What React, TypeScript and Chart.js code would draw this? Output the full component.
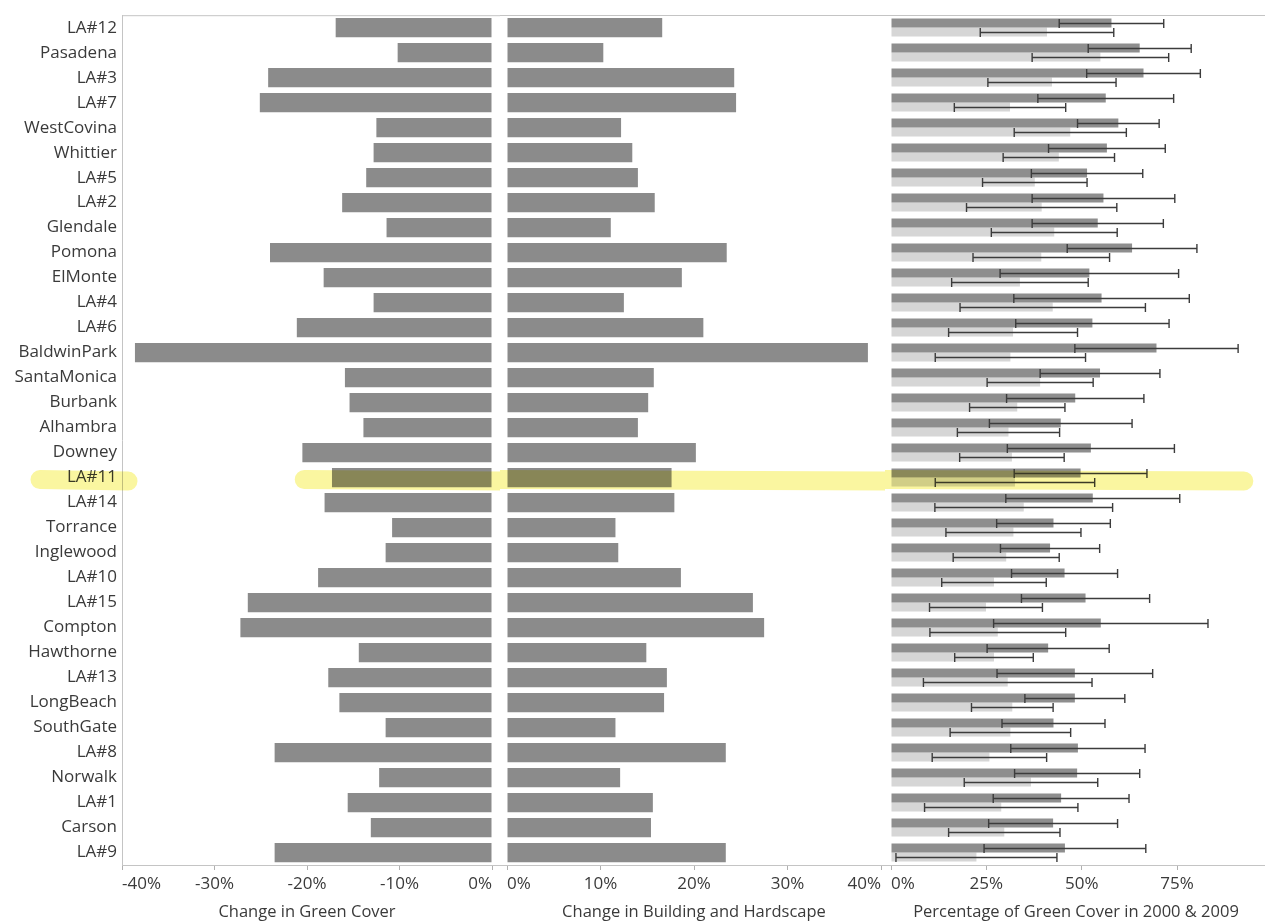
import React, { useEffect, useRef } from 'react';
import { Chart, registerables } from 'chart.js';
Chart.register(...registerables);

const cityLabels = ['LA#12','Pasadena','LA#3','LA#7','WestCovina','Whittier','LA#5','LA#2','Glendale','Pomona','ElMonte','LA#4','LA#6','BaldwinPark','SantaMonica','Burbank','Alhambra','Downey','LA#11','LA#14','Torrance','Inglewood','LA#10','LA#15','Compton','Hawthorne','LA#13','LongBeach','SouthGate','LA#8','Norwalk','LA#1','Carson','LA#9'];

const greenCoverChange = [-16.9,-10.2,-24.2,-25.1,-12.5,-12.8,-13.6,-16.2,-11.4,-24.0,-18.2,-12.8,-21.1,-38.6,-15.9,-15.4,-13.9,-20.5,-17.3,-18.1,-10.8,-11.5,-18.8,-26.4,-27.2,-14.4,-17.7,-16.5,-11.5,-23.5,-12.2,-15.6,-13.1,-23.5];

const hardscapeChange = [16.6,10.3,24.3,24.5,12.2,13.4,14.0,15.8,11.1,23.5,18.7,12.5,21.0,38.6,15.7,15.1,14.0,20.2,17.6,17.9,11.6,11.9,18.6,26.3,27.5,14.9,17.1,16.8,11.6,23.4,12.1,15.6,15.4,23.4];

const green2000 = [57.8,65.2,66.2,56.3,59.6,56.6,51.4,55.7,54.2,63.2,52.0,55.2,52.8,69.6,54.8,48.3,44.5,52.4,49.7,52.9,42.6,41.7,45.5,51.0,55.0,41.2,48.2,48.2,42.6,49.0,48.8,44.6,42.5,45.6];
const err2000 = [13.7,13.5,14.9,17.8,10.7,15.3,14.6,18.7,17.2,17.0,23.4,23.0,20.1,21.4,15.7,18.0,18.7,21.9,17.4,22.8,14.9,13.0,13.9,16.8,28.1,16.0,20.4,13.1,13.5,17.6,16.4,17.8,16.9,21.2];
const green2009 = [40.9,54.9,42.2,31.2,47.0,44.0,37.7,39.5,42.8,39.4,33.8,42.4,32.0,31.3,39.1,33.1,30.8,31.7,32.5,34.8,32.1,30.2,27.0,24.9,28.0,27.0,30.6,31.8,31.3,25.8,36.7,28.9,29.7,22.4];
const err2009 = [17.5,17.9,16.8,14.6,14.7,14.6,13.7,19.7,16.5,17.9,17.9,24.3,16.9,19.7,13.9,12.5,13.4,13.7,20.9,23.3,17.7,13.9,13.7,14.8,17.8,10.3,22.1,10.7,15.8,15.0,17.5,20.1,14.6,21.1];

const seriesYears = ['2000', '2009'];
const highlightCity = 'LA#11';

const leftTicks = { min: -40, max: 0, step: 10 };
const midTicks = { min: 0, max: 40, step: 10 };
const rightTicks = { min: 0, max: 97, step: 25 };

const FONT = '"Open Sans", "Noto Sans", sans-serif';
const TEXT = '#3a3a3a';
const BAR = '#8b8b8b';
const BAR_DARK = '#8e8e8e';
const BAR_LIGHT = '#d6d6d6';
const LINE = '#c4c4c4';

const framePlugin = (fromAxis: boolean) => ({
  id: 'frame',
  afterDraw(chart: any) {
    const { ctx, chartArea } = chart;
    const x0 = fromAxis ? chartArea.left : 0;
    ctx.save();
    ctx.strokeStyle = LINE;
    ctx.lineWidth = 1;
    ctx.beginPath();
    ctx.moveTo(x0, chartArea.top + 0.5);
    ctx.lineTo(chart.width, chartArea.top + 0.5);
    ctx.moveTo(x0, chartArea.bottom + 0.5);
    ctx.lineTo(chart.width, chartArea.bottom + 0.5);
    ctx.stroke();
    ctx.restore();
  },
});

const highlightPlugin = (getSegments: (chart: any) => number[][]) => ({
  id: 'highlight',
  afterDraw(chart: any) {
    const { ctx } = chart;
    const ys = chart.scales.y;
    const idx = cityLabels.indexOf(highlightCity);
    const yc = ys.getPixelForValue(idx) + 2;
    ctx.save();
    ctx.globalCompositeOperation = 'multiply';
    ctx.strokeStyle = 'rgb(250, 246, 160)';
    ctx.lineWidth = 19;
    ctx.lineCap = 'round';
    for (const [a, b] of getSegments(chart)) {
      ctx.beginPath();
      ctx.moveTo(a, yc);
      ctx.lineTo(b, yc + 1.5);
      ctx.stroke();
    }
    ctx.restore();
  },
});

const errorBarPlugin = {
  id: 'errorBars',
  afterDatasetsDraw(chart: any) {
    const { ctx } = chart;
    const xs = chart.scales.x;
    ctx.save();
    ctx.strokeStyle = '#3c3c3c';
    ctx.lineWidth = 1.4;
    chart.data.datasets.forEach((ds: any, di: number) => {
      const meta = chart.getDatasetMeta(di);
      meta.data.forEach((el: any, i: number) => {
        const v = ds.data[i];
        const e = ds.errors[i];
        const x0 = xs.getPixelForValue(v - e);
        const x1 = xs.getPixelForValue(v + e);
        const y = Math.round(el.y) + 0.5;
        ctx.beginPath();
        ctx.moveTo(x0, y);
        ctx.lineTo(x1, y);
        ctx.moveTo(x0, y - 4.5);
        ctx.lineTo(x0, y + 4.5);
        ctx.moveTo(x1, y - 4.5);
        ctx.lineTo(x1, y + 4.5);
        ctx.stroke();
      });
    });
    ctx.restore();
  },
};

const tickFont = { family: FONT, size: 17 };
const titleFont = { family: FONT, size: 16.5 };

function xAxis(cfg: { min: number; max: number; step: number }, title: string) {
  return {
    type: 'linear',
    min: cfg.min,
    max: cfg.max,
    ticks: {
      stepSize: cfg.step,
      align: 'inner',
      maxRotation: 0,
      autoSkip: false,
      padding: 4,
      color: TEXT,
      font: tickFont,
      callback: (v: number) => (v % cfg.step === 0 ? `${v}%` : ''),
    },
    grid: {
      drawOnChartArea: false,
      drawTicks: true,
      tickLength: 5,
      color: (ctx: any) => (ctx.tick && ctx.tick.value % cfg.step === 0 ? '#b0b0b0' : 'rgba(0,0,0,0)'),
    },
    border: { display: false },
    title: { display: true, text: title, color: TEXT, font: titleFont, padding: { top: 0, bottom: 0 } },
    afterFit: (s: any) => { s.height = 57; },
  };
}

function useChart(ref: React.RefObject<HTMLCanvasElement>, make: () => any) {
  useEffect(() => {
    if (!ref.current) return;
    const chart = new Chart(ref.current, make());
    return () => chart.destroy();
  }, []);
}

export default function App() {
  const leftRef = useRef<HTMLCanvasElement>(null);
  const midRef = useRef<HTMLCanvasElement>(null);
  const rightRef = useRef<HTMLCanvasElement>(null);

  useChart(leftRef, () => ({
    type: 'bar',
    data: {
      labels: cityLabels,
      datasets: [{ label: 'Change in Green Cover', data: greenCoverChange, backgroundColor: BAR, barPercentage: 0.77, categoryPercentage: 1 }],
    },
    options: {
      indexAxis: 'y',
      animation: false,
      responsive: false,
      devicePixelRatio: 1,
      layout: { padding: { left: 0, right: 8, top: 15, bottom: 0 } },
      plugins: { legend: { display: false }, tooltip: { enabled: false } },
      scales: {
        x: xAxis(leftTicks, 'Change in Green Cover'),
        y: {
          ticks: { color: TEXT, font: { family: FONT, size: 17 }, padding: 5, autoSkip: false },
          grid: { display: false, drawTicks: false },
          border: { display: true, color: LINE },
          afterFit: (s: any) => { s.width = 122; },
        },
      },
    },
    plugins: [
      framePlugin(true),
      highlightPlugin((c: any) => [
        [c.scales.y.left + 40, c.chartArea.left + 6],
        [c.scales.x.getPixelForValue(-20.3), c.width + 20],
      ]),
    ],
  }));

  useChart(midRef, () => ({
    type: 'bar',
    data: {
      labels: cityLabels,
      datasets: [{ label: 'Change in Building and Hardscape', data: hardscapeChange, backgroundColor: BAR, barPercentage: 0.77, categoryPercentage: 1 }],
    },
    options: {
      indexAxis: 'y',
      animation: false,
      responsive: false,
      devicePixelRatio: 1,
      layout: { padding: { left: 7, right: 4, top: 15, bottom: 0 } },
      plugins: { legend: { display: false }, tooltip: { enabled: false } },
      scales: {
        x: xAxis(midTicks, 'Change in Building and Hardscape'),
        y: { display: false },
      },
    },
    plugins: [framePlugin(false), highlightPlugin((c: any) => [[-20, c.width + 20]])],
  }));

  useChart(rightRef, () => ({
    type: 'bar',
    data: {
      labels: cityLabels,
      datasets: [
        { label: seriesYears[0], data: green2000, errors: err2000, backgroundColor: BAR_DARK, barPercentage: 1, categoryPercentage: 0.72 },
        { label: seriesYears[1], data: green2009, errors: err2009, backgroundColor: BAR_LIGHT, barPercentage: 1, categoryPercentage: 0.72 },
      ],
    },
    options: {
      indexAxis: 'y',
      animation: false,
      responsive: false,
      devicePixelRatio: 1,
      layout: { padding: { left: 6, right: 0, top: 15, bottom: 0 } },
      plugins: { legend: { display: false }, tooltip: { enabled: false } },
      scales: {
        x: xAxis(rightTicks, 'Percentage of Green Cover in 2000 & 2009'),
        y: { display: false },
      },
    },
    plugins: [errorBarPlugin, framePlugin(false), highlightPlugin((c: any) => [[-20, c.scales.x.getPixelForValue(92.5)]])],
  }));

  return (
    <div style={{ position: 'fixed', left: 0, top: 0, width: 1265, height: 922, background: '#fff', overflow: 'hidden' }}>
      <canvas ref={leftRef} width={500} height={922} style={{ position: 'absolute', left: 0, top: 0 }} />
      <canvas ref={midRef} width={385} height={922} style={{ position: 'absolute', left: 500, top: 0 }} />
      <canvas ref={rightRef} width={380} height={922} style={{ position: 'absolute', left: 885, top: 0 }} />
    </div>
  );
}
